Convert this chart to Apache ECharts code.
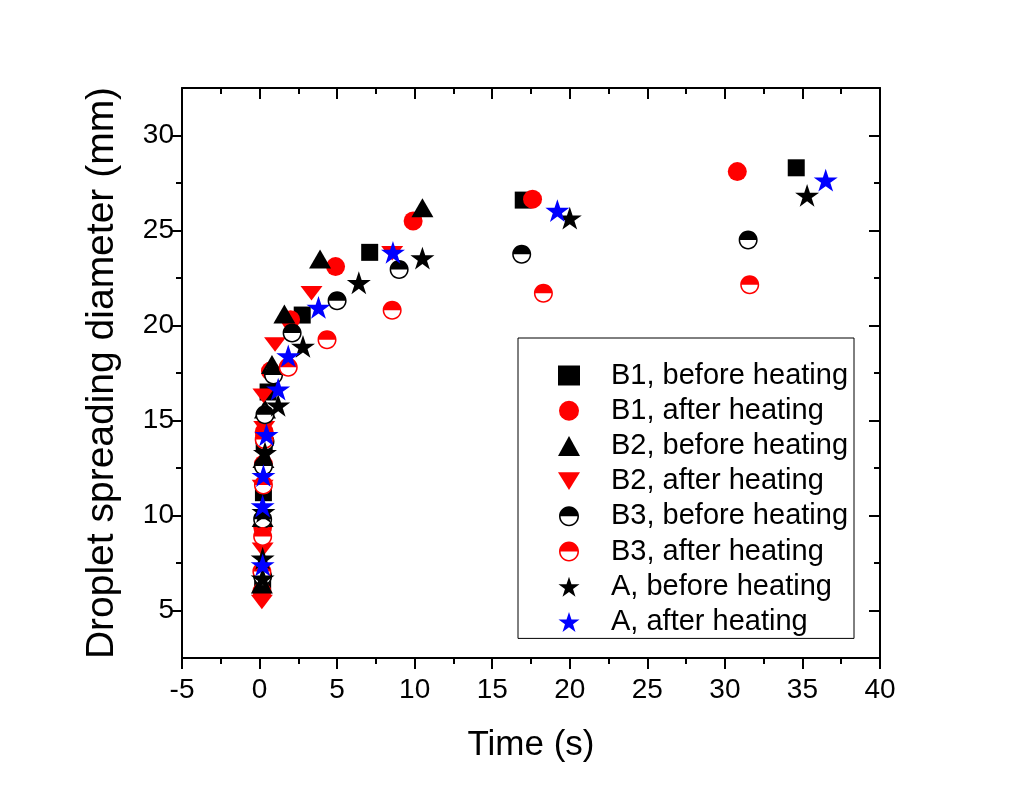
<!DOCTYPE html>
<html>
<head>
<meta charset="utf-8">
<script src="https://cdn.jsdelivr.net/npm/echarts@6/dist/echarts.min.js"></script>
<style>html,body{margin:0;padding:0;background:#fff;}#c{width:1009px;height:787px;}</style>
</head>
<body>
<div id="c"></div>
<script>
// ---- data (time s, diameter mm) ----
const seriesNames = ['B1, before heating','B1, after heating','B2, before heating','B2, after heating','B3, before heating','B3, after heating','A, before heating','A, after heating'];
const b1Before = [[0.2,6.3],[0.2,9.6],[0.25,11.2],[0.3,13.8],[0.55,16.5],[2.75,20.55],[7.1,23.85],[17.0,26.6],[34.6,28.3]];
const b1After = [[0.15,6.0],[0.2,9.4],[0.25,12.7],[0.3,14.4],[0.7,17.6],[2.0,20.3],[4.9,23.1],[9.9,25.5],[17.6,26.65],[30.8,28.1]];
const b2Before = [[0.15,6.4],[0.2,9.9],[0.25,13.0],[0.35,15.6],[0.8,17.95],[1.6,20.6],[3.9,23.5],[10.5,26.2]];
const b2After = [[0.15,5.45],[0.2,8.2],[0.2,11.5],[0.3,14.6],[0.25,16.3],[1.0,19.0],[3.35,21.7],[8.55,23.8]];
const b3Before = [[0.2,6.8],[0.2,9.8],[0.25,12.6],[0.35,13.9],[0.35,15.3],[0.9,17.4],[2.1,19.6],[5.0,21.3],[9.0,22.95],[16.9,23.75],[31.5,24.5]];
const b3After = [[0.15,7.05],[0.2,8.9],[0.25,11.6],[0.3,14.0],[1.85,17.8],[4.35,19.25],[8.55,20.8],[18.3,21.7],[31.6,22.15]];
const aBefore = [[0.2,6.7],[0.2,7.75],[0.25,10.2],[0.35,13.3],[1.2,15.8],[2.8,18.9],[6.4,22.25],[10.5,23.55],[20.0,25.65],[35.3,26.85]];
const aAfter = [[0.2,7.4],[0.2,10.5],[0.25,12.1],[0.45,14.25],[1.2,16.65],[1.85,18.4],[3.8,20.95],[8.6,23.85],[19.2,26.05],[36.5,27.65]];

const yMajor = [5,10,15,20,25,30];
const yMinor = [7.5,12.5,17.5,22.5,27.5];

// ---- symbols ----
const STAR = 'path://M0 -10L2.245 -3.09L9.511 -3.09L3.633 1.18L5.878 8.09L0 3.82L-5.878 8.09L-3.633 1.18L-9.511 -3.09L-2.245 -3.09Z';
const DOWN_TRI = 'path://M-10 -8L10 -8L0 8Z';
const HALF = 'path://M-10 0C-10 -5.523 -5.523 -10 0 -10C5.523 -10 10 -5.523 10 0C10 5.523 5.523 10 0 10C-5.523 10 -10 5.523 -10 0Z' +
  'M-8.4 0C-8.4 4.639 -4.639 8.4 0 8.4C4.639 8.4 8.4 4.639 8.4 0C8.4 -4.639 4.639 -8.4 0 -8.4C-4.639 -8.4 -8.4 -4.639 -8.4 0Z' +
  'M-8.4 0C-8.4 -4.639 -4.639 -8.4 0 -8.4C4.639 -8.4 8.4 -4.639 8.4 0Z';

const FONT = "'Liberation Sans', Arial, sans-serif";
const chart = echarts.init(document.getElementById('c'), null, {renderer:'canvas'});

function sc(name, data, symbol, size, color) {
  return {type:'scatter', name, data, symbol, symbolSize:size, symbolKeepAspect:true,
    itemStyle:{color, opacity:1}, emphasis:{disabled:true}, z:2};
}
function white(data) {
  return {type:'scatter', name:'_w', data, symbol:'circle', symbolSize:18,
    itemStyle:{color:'#fff', opacity:1}, emphasis:{disabled:true}, z:2, legendHoverLink:false};
}

const axLine = {show:true, onZero:false, lineStyle:{color:'#000', width:2}};
const noLine = {show:false, onZero:false};
const xBase = {type:'value', min:-5, max:40, interval:5, splitLine:{show:false}, axisLine:axLine};

chart.setOption({
  animation:false,
  backgroundColor:'#fff',
  grid:{left:182, right:129, top:88, bottom:129, containLabel:false},
  xAxis:[
    Object.assign({}, xBase, {position:'bottom',
      axisTick:{show:true, length:11, lineStyle:{color:'#000', width:2}},
      minorTick:{show:true, splitNumber:2, length:6, lineStyle:{color:'#000', width:2}},
      axisLabel:{color:'#000', fontSize:28, fontFamily:FONT, margin:18},
      name:'Time (s)', nameLocation:'middle', nameGap:70,
      nameTextStyle:{color:'#000', fontSize:35, fontFamily:FONT}}),
    Object.assign({}, xBase, {position:'top',
      axisTick:{show:true, inside:true, length:11, lineStyle:{color:'#000', width:2}},
      minorTick:{show:true, splitNumber:2, length:6, lineStyle:{color:'#000', width:2}},
      axisLabel:{show:false}})
  ],
  yAxis:[
    {type:'value', min:2.5, max:32.5, position:'left', splitLine:{show:false}, axisLine:axLine,
      axisTick:{show:true, length:11, customValues:yMajor, lineStyle:{color:'#000', width:2}},
      axisLabel:{color:'#000', fontSize:28, fontFamily:FONT, margin:8, customValues:yMajor},
      name:'Droplet spreading diameter (mm)', nameLocation:'middle', nameGap:60,
      nameTextStyle:{color:'#000', fontSize:39, fontFamily:FONT}},
    {type:'value', min:2.5, max:32.5, position:'left', splitLine:{show:false}, axisLine:noLine,
      axisTick:{show:true, length:6, customValues:yMinor, lineStyle:{color:'#000', width:2}},
      axisLabel:{show:false}},
    {type:'value', min:2.5, max:32.5, position:'right', splitLine:{show:false}, axisLine:axLine,
      axisTick:{show:true, inside:true, length:11, customValues:yMajor, lineStyle:{color:'#000', width:2}},
      axisLabel:{show:false}},
    {type:'value', min:2.5, max:32.5, position:'right', splitLine:{show:false}, axisLine:noLine,
      axisTick:{show:true, inside:true, length:6, customValues:yMinor, lineStyle:{color:'#000', width:2}},
      axisLabel:{show:false}}
  ],
  legend:{
    data:seriesNames, orient:'vertical', left:518, top:338, selectedMode:false,
    backgroundColor:'#fff', borderColor:'#000', borderWidth:1,
    padding:[23,6,2,40], itemGap:6.2, itemWidth:22, itemHeight:20,
    textStyle:{color:'#000', fontSize:29, fontFamily:FONT, lineHeight:29, padding:[0,0,0,26]}
  },
  series:[
    sc(seriesNames[0], b1Before, 'rect', 17, '#000'),
    sc(seriesNames[1], b1After, 'circle', 19, '#ff0000'),
    sc(seriesNames[2], b2Before, 'triangle', [22,19], '#000'),
    sc(seriesNames[3], b2After, DOWN_TRI, [22,18], '#ff0000'),
    white(b3Before),
    sc(seriesNames[4], b3Before, HALF, 19, '#000'),
    white(b3After),
    sc(seriesNames[5], b3After, HALF, 19, '#ff0000'),
    sc(seriesNames[6], aBefore, STAR, 24, '#000'),
    sc(seriesNames[7], aAfter, STAR, 24, '#0000ff')
  ]
});
</script>
</body>
</html>
